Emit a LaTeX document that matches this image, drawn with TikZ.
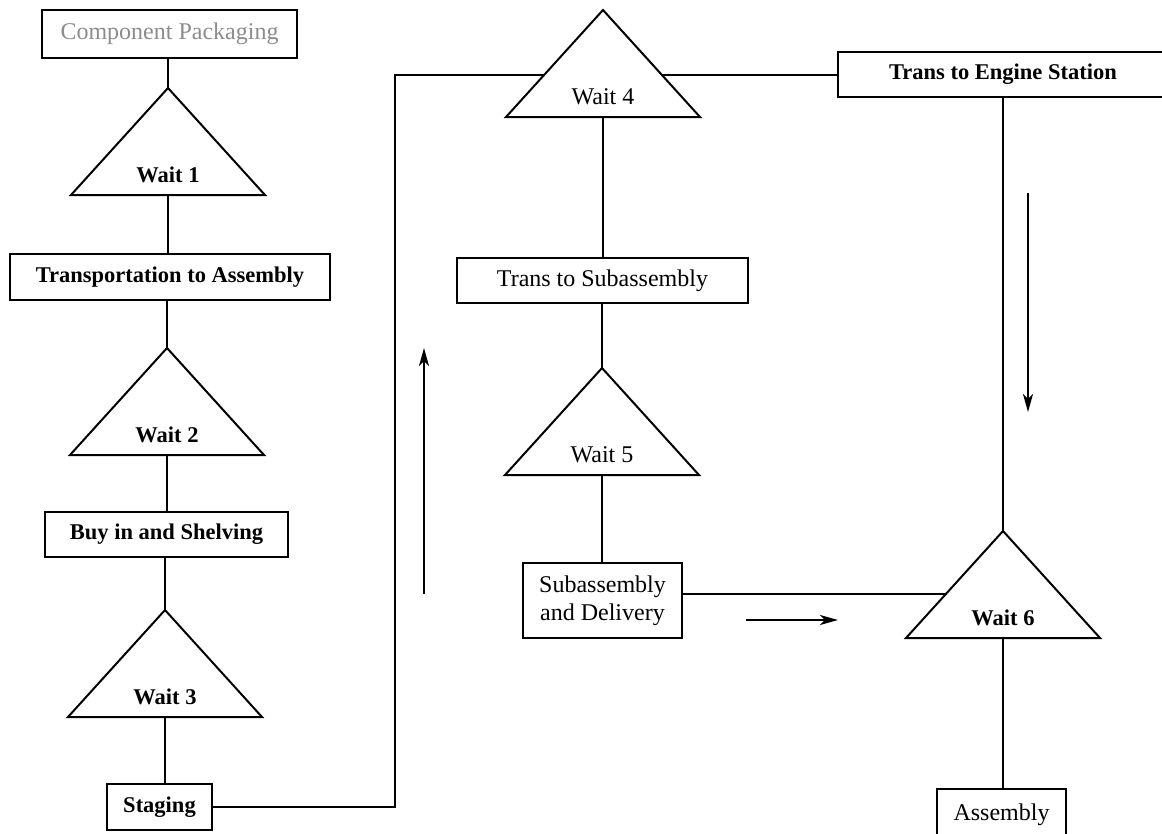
\documentclass[tikz,border=0pt]{standalone}
\usepackage{fontspec}
\setmainfont{Liberation Serif}
\usetikzlibrary{arrows.meta}
\pgfdeclarelayer{background}
\pgfsetlayers{background,main}
\newcommand\waittri[5]{%
  \draw[tri] (#2,#3) coordinate (#1t) -- ++(97,107) -- ++(-194,0) -- cycle;
  \coordinate (#1b) at (#2,#3+107);
  \node[#4] (#1) at (#2,#3+87) {#5};}
\begin{document}
\begin{tikzpicture}[x=1pt,y=-1pt,
  line width=2pt,
  box/.style={draw, line width=2pt, fill=white, inner sep=0pt, align=center},
  bf/.style={font=\fontsize{22.5}{26}\selectfont\bfseries},
  rm/.style={font=\fontsize{24}{28}\selectfont},
  tri/.style={draw, fill=white, line width=2pt, line join=miter},
  conn/.style={draw, line width=2pt},
  flow/.style={-{Stealth[length=18pt,width=10pt,inset=5pt]}, line width=2pt}]
\useasboundingbox (0,0) rectangle (1162,833);

% boxes
\node[box,rm,text=black!45,minimum width=255pt,minimum height=48pt] (cp) at (169.5,34) {Component Packaging};
\node[box,bf,minimum width=320pt,minimum height=46pt] (ta) at (170,277) {Transportation to Assembly};
\node[box,bf,minimum width=243pt,minimum height=45pt] (bs) at (166.5,534.5) {Buy in and Shelving};
\node[box,bf,minimum width=105pt,minimum height=46pt] (st) at (159.5,807) {Staging};
\node[box,rm,minimum width=291pt,minimum height=45pt] (tsub) at (602.5,280.5) {Trans to Subassembly};
\node[box,rm,minimum width=159pt,minimum height=75pt] (sd) at (602.5,600.5) {Subassembly\\and Delivery};
\node[box,bf,minimum width=330pt,minimum height=45pt] (tes) at (1003,74.5) {Trans to Engine Station};
\node[box,rm,minimum width=129pt,minimum height=51pt] (asm) at (1001.5,814.5) {Assembly};

% wait triangles
\waittri{w1}{168}{88}{bf}{Wait 1}
\waittri{w2}{167}{348}{bf}{Wait 2}
\waittri{w3}{165}{610}{bf}{Wait 3}
\waittri{w4}{603}{10}{rm}{Wait 4}
\waittri{w5}{602}{368}{rm}{Wait 5}
\waittri{w6}{1003}{531}{bf}{Wait 6}

% helper coordinates
\coordinate (c1) at (395,75);
\coordinate (sdout) at ([yshift=6.5pt]sd.east);
\coordinate (a1s) at (424,594);
\coordinate (a1e) at (424,348);
\coordinate (a2s) at (746,620);
\coordinate (a2e) at (838,620);
\coordinate (a3s) at (1028,193);
\coordinate (a3e) at (1028,412);

\begin{pgfonlayer}{background}
\path[conn] (w1t |- cp.south) -- (w1t);
\path[conn] (w1b) -- (w1b |- ta.north);
\path[conn] (w2t |- ta.south) -- (w2t);
\path[conn] (w2b) -- (w2b |- bs.north);
\path[conn] (w3t |- bs.south) -- (w3t);
\path[conn] (w3b) -- (w3b |- st.north);
\path[conn] (st.east) -| (c1) -- (c1 -| tes.west);
\path[conn] (w4b) -- (w4b |- tsub.north);
\path[conn] (w5t |- tsub.south) -- (w5t);
\path[conn] (w5b) -- (w5b |- sd.north);
\path[conn] (sdout) -- (sdout -| w6t);
\path[conn] (tes.south) -- (w6t);
\path[conn] (w6b) -- (w6b |- asm.north);
\end{pgfonlayer}

% flow arrows
\draw[flow] (a1s) -- (a1e);
\draw[flow] (a2s) -- (a2e);
\draw[flow] (a3s) -- (a3e);
\end{tikzpicture}
\end{document}
